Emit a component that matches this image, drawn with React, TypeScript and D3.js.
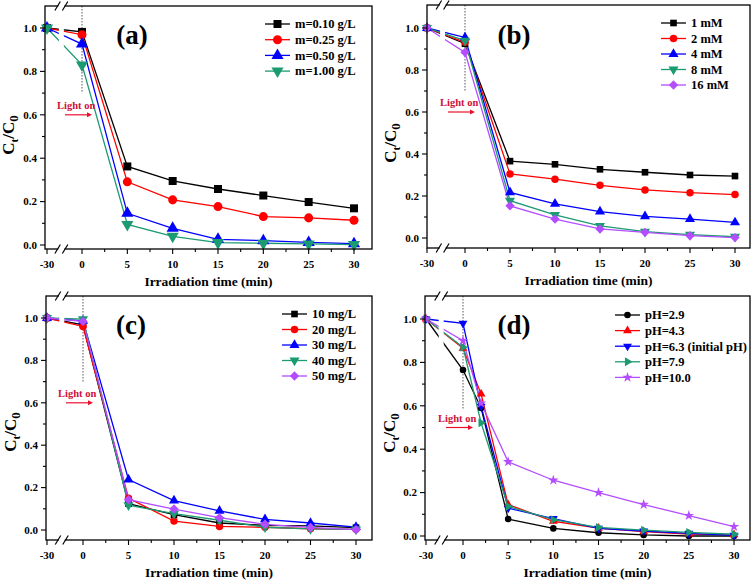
import * as d3 from "d3";
import React from "react";

const FONT = "'Liberation Serif','Times New Roman',Times,serif";

// x values (min); -30 is the dark adsorption start, panel (d) has an extra 2 min sample
const timesABC = [-30, 0, 5, 10, 15, 20, 25, 30];
const timesD = [-30, 0, 2, 5, 10, 15, 20, 25, 30];

// (a) catalyst dosage
const dosageLabels = ["m=0.10 g/L", "m=0.25 g/L", "m=0.50 g/L", "m=1.00 g/L"];
const dose010 = [1.0, 0.982, 0.362, 0.295, 0.258, 0.228, 0.198, 0.169];
const dose025 = [1.0, 0.969, 0.291, 0.208, 0.177, 0.131, 0.125, 0.114];
const dose050 = [1.0, 0.926, 0.146, 0.077, 0.026, 0.02, 0.012, 0.006];
const dose100 = [1.0, 0.83, 0.095, 0.04, 0.011, 0.008, 0.005, 0.002];

// (b) oxidant concentration
const oxidantLabels = ["1 mM", "2 mM", "4 mM", "8 mM", "16 mM"];
const ox1 = [1.0, 0.925, 0.366, 0.351, 0.327, 0.313, 0.3, 0.295];
const ox2 = [1.0, 0.932, 0.305, 0.28, 0.251, 0.229, 0.216, 0.207];
const ox4 = [1.0, 0.955, 0.217, 0.163, 0.126, 0.103, 0.09, 0.074];
const ox8 = [1.0, 0.94, 0.178, 0.11, 0.058, 0.03, 0.016, 0.006];
const ox16 = [1.0, 0.884, 0.153, 0.09, 0.043, 0.027, 0.011, 0.002];

// (c) pollutant concentration
const concLabels = ["10 mg/L", "20 mg/L", "30 mg/L", "40 mg/L", "50 mg/L"];
const c10 = [1.0, 0.968, 0.124, 0.072, 0.033, 0.022, 0.019, 0.011];
const c20 = [1.0, 0.96, 0.15, 0.042, 0.017, 0.013, 0.006, 0.003];
const c30 = [1.0, 0.987, 0.238, 0.139, 0.09, 0.05, 0.033, 0.014];
const c40 = [1.0, 0.995, 0.117, 0.077, 0.046, 0.013, 0.005, 0.003];
const c50 = [1.0, 0.984, 0.143, 0.099, 0.058, 0.027, 0.012, 0.002];

// (d) pH
const phLabels = ["pH=2.9", "pH=4.3", "pH=6.3 (initial pH)", "pH=7.9", "pH=10.0"];
const ph29 = [1.0, 0.765, 0.59, 0.078, 0.035, 0.015, 0.005, 0.0, 0.0];
const ph43 = [1.0, 0.865, 0.655, 0.145, 0.068, 0.036, 0.02, 0.009, 0.006];
const ph63 = [1.0, 0.98, 0.598, 0.128, 0.08, 0.035, 0.023, 0.012, 0.003];
const ph79 = [1.0, 0.87, 0.522, 0.136, 0.075, 0.04, 0.027, 0.017, 0.008];
const ph100 = [1.0, 0.9, 0.612, 0.342, 0.257, 0.2, 0.145, 0.094, 0.043];

const xTicks = [-30, 0, 5, 10, 15, 20, 25, 30];
const xMinor = [2.5, 7.5, 12.5, 17.5, 22.5, 27.5];
const yTicks = [0, 0.2, 0.4, 0.6, 0.8, 1.0];
const yMinor = [0.1, 0.3, 0.5, 0.7, 0.9];

const colors = ["#000000", "#ff0000", "#0000ff", "#1c9b72", "#b44dff"];

type Shape = "square" | "circle" | "up" | "down" | "right" | "diamond" | "star";

const symPath = (shape: Shape, size: number) => {
  const t =
    shape === "square" || shape === "diamond" ? d3.symbolSquare
    : shape === "circle" ? d3.symbolCircle
    : shape === "star" ? d3.symbolStar
    : d3.symbolTriangle;
  return d3.symbol().type(t).size(size)() as string;
};
const symRot = (shape: Shape) =>
  shape === "down" ? 180 : shape === "right" ? 90 : shape === "diamond" ? 45 : 0;

type Cfg = {
  tag: string; ox: number; oy: number;
  left: number; right: number; top: number; bottom: number;
  xa: number; xb: number; xc: number; // pixel of -30, 0, 30
  y0: number; y1: number;             // pixel of 0.0, 1.0
  ytY: number; ytX: number;
  tagX: number;
  legX: number; legY: number; legStep: number;
  dotEnd: number; lightY: number;
  msize: number;
};

const panels: { cfg: Cfg; times: number[]; labels: string[]; values: number[][]; shapes: Shape[] }[] = [
  {
    cfg: { tag: "(a)", ox: 0, oy: 0, left: 45, right: 372, top: 6, bottom: 249, xa: 47, xb: 82, xc: 354, y0: 245, y1: 28,
      ytY: 135, ytX: 14, tagX: 132, legX: 265, legY: 24, legStep: 15.7, dotEnd: 0.7, lightY: 0.6, msize: 64 },
    times: timesABC, labels: dosageLabels, values: [dose010, dose025, dose050, dose100],
    shapes: ["square", "circle", "up", "down"],
  },
  {
    cfg: { tag: "(b)", ox: 378, oy: 0, left: 49, right: 372, top: 5, bottom: 248, xa: 49, xb: 87, xc: 357, y0: 238, y1: 28,
      ytY: 143, ytX: 18, tagX: 136, legX: 283, legY: 23, legStep: 15.5, dotEnd: 0.7, lightY: 0.6, msize: 44 },
    times: timesABC, labels: oxidantLabels, values: [ox1, ox2, ox4, ox8, ox16],
    shapes: ["square", "circle", "up", "down", "diamond"],
  },
  {
    cfg: { tag: "(c)", ox: 0, oy: 290, left: 46, right: 372, top: 6, bottom: 250, xa: 47, xb: 83, xc: 356, y0: 240, y1: 28,
      ytY: 142, ytX: 16, tagX: 131, legX: 282, legY: 24, legStep: 15.5, dotEnd: 0.7, lightY: 0.6, msize: 44 },
    times: timesABC, labels: concLabels, values: [c10, c20, c30, c40, c50],
    shapes: ["square", "circle", "up", "down", "diamond"],
  },
  {
    cfg: { tag: "(d)", ox: 378, oy: 290, left: 47, right: 372, top: 6, bottom: 250, xa: 48, xb: 85, xc: 356, y0: 246, y1: 29,
      ytY: 143, ytX: 17, tagX: 136, legX: 237, legY: 25, legStep: 15.6, dotEnd: 0.58, lightY: 0.5, msize: 34 },
    times: timesD, labels: phLabels, values: [ph29, ph43, ph63, ph79, ph100],
    shapes: ["circle", "up", "down", "right", "star"],
  },
];

function Panel({ cfg, times, labels, values, shapes }: (typeof panels)[number]) {
  const x = d3.scaleLinear().domain([-30, 0, 30]).range([cfg.xa, cfg.xb, cfg.xc]);
  const y = d3.scaleLinear().domain([0, 1]).range([cfg.y0, cfg.y1]);
  const line = d3.line<number>().x((_, i) => x(times[i])).y((d) => y(d));
  const bx = cfg.xa + 0.41 * (cfg.xb - cfg.xa);
  const fmt = d3.format(".1f");
  const brk = (yy: number) => (
    <g>
      <rect x={bx - 3} y={yy - 2} width={6} height={4} fill="#fff" />
      <line x1={bx - 6.5} y1={yy + 4.5} x2={bx - 1} y2={yy - 4.5} stroke="#000" strokeWidth={1.2} />
      <line x1={bx + 1} y1={yy + 4.5} x2={bx + 6.5} y2={yy - 4.5} stroke="#000" strokeWidth={1.2} />
    </g>
  );
  return (
    <g transform={`translate(${cfg.ox},${cfg.oy})`} fontFamily={FONT} fontWeight="bold">
      {/* dotted light-on marker */}
      <line x1={x(0)} x2={x(0)} y1={cfg.top} y2={y(cfg.dotEnd)} stroke="#556" strokeWidth={1} strokeDasharray="1.5,1.5" />

      {/* series lines */}
      {values.map((v, i) => (
        <path key={i} d={line(v) as string} fill="none" stroke={colors[i]} strokeWidth={1.3} />
      ))}
      {/* axis break gap through the lines */}
      <rect x={bx - 2.5} y={cfg.top + 1} width={5} height={cfg.bottom - cfg.top - 2} fill="#fff" />
      {values.map((v, i) =>
        v.map((d, j) => (
          <path key={`${i}-${j}`} d={symPath(shapes[i], cfg.msize)}
            transform={`translate(${x(times[j])},${y(d)}) rotate(${symRot(shapes[i])})`} fill={colors[i]} />
        ))
      )}

      <text x={x(0) - 25} y={y(cfg.lightY) - 6} fontSize={10.5} fill="#d0103a">Light on</text>
      <line x1={x(0) - 17} x2={x(0) + 8} y1={y(cfg.lightY)} y2={y(cfg.lightY)} stroke="#e8112d" strokeWidth={1.2} />
      <path d={`M${x(0) + 10},${y(cfg.lightY)} l-5,-2.5 l0,5 z`} fill="#e8112d" />

      {/* frame */}
      <rect x={cfg.left} y={cfg.top} width={cfg.right - cfg.left} height={cfg.bottom - cfg.top} fill="none" stroke="#000" strokeWidth={1.3} />
      {brk(cfg.top)}
      {brk(cfg.bottom)}

      {/* x axis */}
      {xTicks.map((t) => (
        <g key={t}>
          <line x1={x(t)} x2={x(t)} y1={cfg.bottom} y2={cfg.bottom + 5} stroke="#000" strokeWidth={1.1} />
          <text x={x(t)} y={cfg.bottom + 18.5} fontSize={11} textAnchor="middle">{t}</text>
        </g>
      ))}
      {xMinor.map((t) => (
        <line key={t} x1={x(t)} x2={x(t)} y1={cfg.bottom} y2={cfg.bottom + 3} stroke="#000" strokeWidth={1.1} />
      ))}
      <text x={(cfg.left + cfg.right) / 2} y={cfg.bottom + 37} fontSize={13.5} textAnchor="middle">Irradiation time (min)</text>

      {/* y axis */}
      {yTicks.map((t) => (
        <g key={t}>
          <line x1={cfg.left - 5} x2={cfg.left} y1={y(t)} y2={y(t)} stroke="#000" strokeWidth={1.1} />
          <text x={cfg.left - 8} y={y(t)} dy="0.35em" fontSize={11} textAnchor="end">{fmt(t)}</text>
        </g>
      ))}
      {yMinor.map((t) => (
        <line key={t} x1={cfg.left - 3} x2={cfg.left} y1={y(t)} y2={y(t)} stroke="#000" strokeWidth={1.1} />
      ))}
      <text transform={`translate(${cfg.ytX},${cfg.ytY}) rotate(-90)`} fontSize={17} textAnchor="middle">
        C<tspan fontSize={11} dy={4}>t</tspan><tspan dy={-4}>/C</tspan><tspan fontSize={13} dy={4}>0</tspan>
      </text>

      {/* panel tag */}
      <text x={cfg.tagX} y={44} fontSize={27} textAnchor="middle">{cfg.tag}</text>

      {/* legend */}
      {labels.map((lab, i) => {
        const ly = cfg.legY + i * cfg.legStep;
        return (
          <g key={lab}>
            <line x1={cfg.legX} x2={cfg.legX + 25} y1={ly} y2={ly} stroke={colors[i]} strokeWidth={1.3} />
            <path d={symPath(shapes[i], cfg.msize)} transform={`translate(${cfg.legX + 12.5},${ly}) rotate(${symRot(shapes[i])})`} fill={colors[i]} />
            <text x={cfg.legX + 30} y={ly} dy="0.35em" fontSize={12.5}>{lab}</text>
          </g>
        );
      })}
    </g>
  );
}

export default function App() {
  return (
    <div style={{ position: "absolute", left: 0, top: 0 }}>
      <svg width={756} height={585} style={{ display: "block", background: "#fff" }}>
        {panels.map((p) => (
          <Panel key={p.cfg.tag} {...p} />
        ))}
      </svg>
    </div>
  );
}
